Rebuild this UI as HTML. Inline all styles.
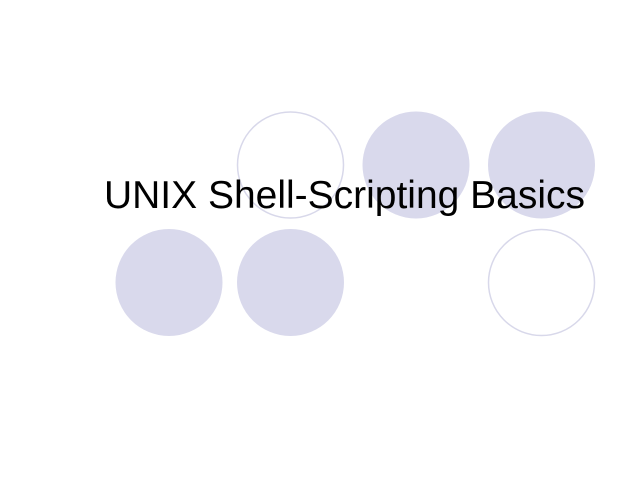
<!DOCTYPE html>
<html><head><style>
html,body{margin:0;padding:0;background:#fff;width:640px;height:480px;overflow:hidden}
</style></head><body>
<svg width="640" height="480" xmlns="http://www.w3.org/2000/svg">
<rect width="640" height="480" fill="#fff"/>
<circle cx="290.5" cy="165" r="53" fill="#fff" stroke="#d8d8ea" stroke-width="1.5"/>
<circle cx="416" cy="165" r="53.5" fill="#d9d9ec"/>
<circle cx="541.5" cy="165" r="53.5" fill="#d9d9ec"/>
<circle cx="169" cy="282.5" r="53.5" fill="#d9d9ec"/>
<circle cx="290.5" cy="282.5" r="53.5" fill="#d9d9ec"/>
<circle cx="541.5" cy="282.5" r="53" fill="#fff" stroke="#d8d8ea" stroke-width="1.5"/>
<text x="104" y="208" font-family="Liberation Sans, sans-serif" font-size="39" fill="#000" textLength="481" lengthAdjust="spacingAndGlyphs">UNIX Shell-Scripting Basics</text>
</svg>
</body></html>
